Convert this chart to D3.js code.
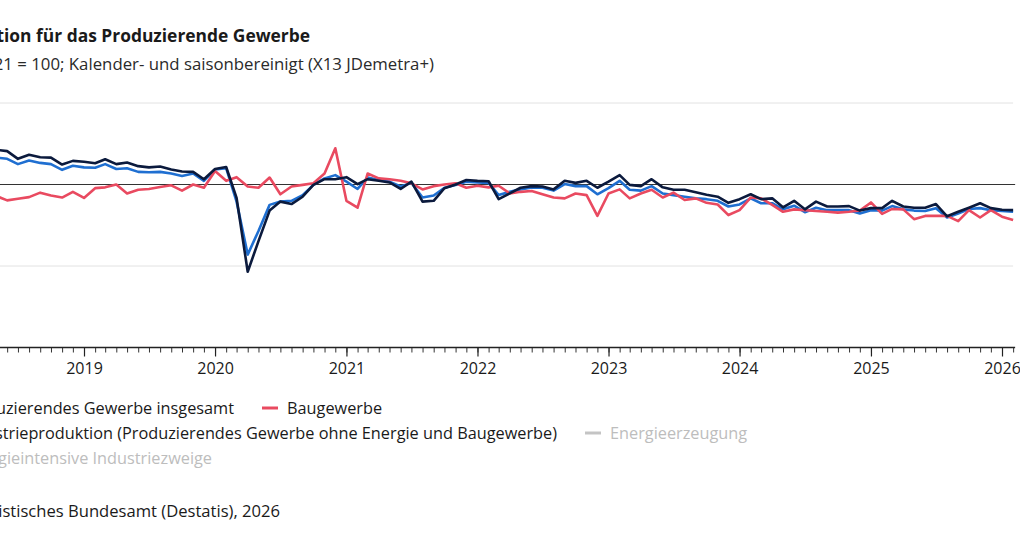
<!DOCTYPE html>
<html lang="de">
<head>
<meta charset="utf-8">
<script src="https://cdn.jsdelivr.net/npm/d3@7"></script>
<style>
    body { margin: 0; background: #fff; overflow: hidden; }
    svg { display: block; font-family: "Open Sans", Roboto, "Noto Sans", sans-serif; }
</style>
</head>
<body>
<div id="chart"></div>
<script>
// Monthly index values, 2021 = 100, first value is May 2018
const startMonth = new Date(2018, 4, 1);

const produzierendesGewerbe = [
    106.6, 106.3, 105.0, 105.9, 105.3, 105.0, 103.6, 104.6,
    104.2, 104.1, 105.0, 103.8, 104.0, 103.1, 103.0, 103.1, 102.7, 102.1, 102.7, 100.9,
    103.7, 104.0, 95.8, 82.8, 88.6, 95.0, 95.8, 96.0, 97.4, 99.9, 101.5, 102.3,
    100.7, 98.9, 101.7, 101.1, 100.7, 99.5, 100.4, 96.8, 97.3, 99.2, 99.9, 100.7,
    100.5, 100.4, 97.4, 98.2, 98.8, 99.3, 99.2, 98.5, 100.1, 99.6, 99.6, 97.6,
    99.1, 100.9, 98.7, 98.5, 99.6, 97.8, 97.4, 97.0, 96.6, 96.4, 96.0, 94.6,
    95.1, 96.6, 95.4, 95.4, 93.9, 94.8, 93.2, 94.3, 93.7, 93.7, 93.7, 92.9,
    93.7, 93.6, 94.7, 93.9, 93.6, 93.5, 94.2, 91.9, 92.9, 94.0, 94.2, 93.7,
    93.5, 93.3
];

const baugewerbe = [
    97.2, 96.1, 96.5, 96.9, 98.0, 97.3, 96.8, 98.2,
    96.7, 99.1, 99.3, 100.0, 97.8, 98.7, 98.9, 99.4, 99.8, 98.5, 100.0, 99.2,
    103.3, 100.9, 101.8, 99.5, 99.2, 101.7, 97.6, 99.5, 99.9, 100.3, 102.7, 108.9,
    96.0, 94.3, 102.7, 101.5, 101.3, 100.9, 100.3, 98.8, 99.6, 100.0, 100.3, 99.2,
    99.7, 99.3, 99.7, 97.8, 98.2, 98.4, 97.6, 96.8, 96.6, 97.8, 97.4, 92.3,
    97.8, 98.8, 96.6, 97.8, 98.7, 96.8, 98.0, 96.2, 96.6, 95.5, 95.1, 92.5,
    93.7, 96.8, 96.6, 95.0, 93.3, 93.9, 93.7, 93.5, 93.3, 93.1, 93.3, 93.6,
    95.6, 92.8, 94.0, 93.9, 91.5, 92.3, 92.3, 92.3, 91.0, 93.7, 91.9, 93.7,
    92.1, 91.3
];

const industrieproduktion = [
    108.5, 108.2, 106.3, 107.3, 106.7, 106.6, 104.9, 105.8,
    105.6, 105.2, 106.2, 105.0, 105.4, 104.5, 104.2, 104.4, 103.7, 103.2, 103.1, 101.3,
    103.8, 104.3, 96.7, 78.6, 86.1, 93.6, 95.8, 95.2, 97.0, 99.9, 101.3, 101.3,
    101.8, 100.1, 101.3, 100.9, 100.5, 98.9, 100.7, 95.8, 96.0, 99.1, 100.0, 101.1,
    100.9, 100.8, 96.4, 97.8, 99.2, 99.6, 99.5, 98.8, 100.9, 100.4, 100.9, 99.2,
    100.7, 102.3, 99.9, 99.6, 101.3, 99.3, 98.7, 98.7, 98.1, 97.5, 97.0, 95.5,
    96.4, 97.6, 96.4, 96.6, 94.4, 96.0, 93.9, 95.8, 94.6, 94.6, 94.7, 93.6,
    94.2, 94.2, 96.0, 94.6, 94.3, 94.3, 95.2, 92.2, 93.3, 94.3, 95.4, 94.2,
    93.8, 93.7
];

const yTicks = [60, 80, 100, 120];

const seriesNames = [
    "Produzierendes Gewerbe insgesamt",
    "Baugewerbe",
    "Industrieproduktion (Produzierendes Gewerbe ohne Energie und Baugewerbe)",
    "Energieerzeugung",
    "Energieintensive Industriezweige"
];
const seriesColors = ["#1f6fd1", "#e94a60", "#0b1a3d", "#c4c4c4", "#c4c4c4"];
const seriesActive = [true, true, true, false, false];

const titleText = "Produktion für das Produzierende Gewerbe";
const subtitleText = "Index 2021 = 100; Kalender- und saisonbereinigt (X13 JDemetra+)";
const sourceText = "Quelle: Statistisches Bundesamt (Destatis), 2026";

// months for every value
const months = d3.timeMonth.range(startMonth, d3.timeMonth.offset(startMonth, industrieproduktion.length));

const width = 1020, height = 550;

const svg = d3.select("#chart")
    .append("svg")
    .attr("width", width)
    .attr("height", height);

// The chart is wider than the window, its left part is cut off
const x = d3.scaleTime()
    .domain([new Date(2019, 0, 1), new Date(2026, 0, 1)])
    .range([84, 1002]);

const y = d3.scaleLinear()
    .domain([60, 120])
    .range([347.5, 103]);

const plotLeft = x(startMonth) - 20;
const plotRight = x(months[months.length - 1]);

// Title and subtitle (left part clipped, so anchored at their end)
svg.append("text")
    .attr("x", 310)
    .attr("y", 42)
    .attr("text-anchor", "end")
    .attr("font-size", 17.4)
    .attr("font-weight", 700)
    .attr("fill", "#1a1a1a")
    .text(titleText);

svg.append("text")
    .attr("x", 434)
    .attr("y", 70)
    .attr("text-anchor", "end")
    .attr("font-size", 16.8)
    .attr("fill", "#2a2a2a")
    .text(subtitleText);

// Gridlines
svg.append("g")
    .selectAll("line")
    .data(yTicks.filter(d => d !== 60 && d !== 100))
    .join("line")
    .attr("x1", plotLeft)
    .attr("x2", plotRight)
    .attr("y1", d => y(d))
    .attr("y2", d => y(d))
    .attr("stroke", "#e2e2e2")
    .attr("stroke-width", 1);

// y labels (off screen on the left)
svg.append("g")
    .selectAll("text")
    .data(yTicks)
    .join("text")
    .attr("x", plotLeft - 8)
    .attr("y", d => y(d) + 5)
    .attr("text-anchor", "end")
    .attr("font-size", 16)
    .attr("fill", "#222")
    .text(d => d);

// x axis: monthly minor ticks and yearly major ticks
const axisScale = x.copy()
    .domain([startMonth, months[months.length - 1]])
    .range([x(startMonth), plotRight]);

const minorAxis = svg.append("g")
    .attr("transform", `translate(0, ${y(60)})`)
    .call(d3.axisBottom(axisScale)
        .ticks(d3.timeMonth.every(1))
        .tickSize(5)
        .tickSizeOuter(0)
        .tickFormat(""));
minorAxis.select(".domain").remove();
minorAxis.selectAll("line").attr("stroke", "#333");

const majorAxis = svg.append("g")
    .attr("transform", `translate(0, ${y(60)})`)
    .call(d3.axisBottom(axisScale)
        .ticks(d3.timeYear.every(1))
        .tickSize(9)
        .tickPadding(6)
        .tickSizeOuter(0)
        .tickFormat(d3.timeFormat("%Y")));
majorAxis.select(".domain").remove();
majorAxis.selectAll("line").attr("stroke", "#222").attr("stroke-width", 1.2);
majorAxis.selectAll("text")
    .attr("font-size", 16)
    .attr("font-family", "'Open Sans', Roboto, sans-serif")
    .attr("fill", "#1a1a1a");

// axis line
svg.append("line")
    .attr("x1", plotLeft)
    .attr("x2", plotRight + 2)
    .attr("y1", y(60))
    .attr("y2", y(60))
    .attr("stroke", "#222")
    .attr("stroke-width", 1.5);

// Index 100 line
svg.append("line")
    .attr("x1", plotLeft)
    .attr("x2", plotRight + 2)
    .attr("y1", y(100))
    .attr("y2", y(100))
    .attr("stroke", "#333")
    .attr("stroke-width", 1.2);

// Lines
const line = d3.line()
    .x((d, i) => x(months[i]))
    .y(d => y(d));

const drawn = [
    { values: produzierendesGewerbe, color: seriesColors[0] },
    { values: baugewerbe, color: seriesColors[1] },
    { values: industrieproduktion, color: seriesColors[2] }
];

svg.append("g")
    .selectAll("path")
    .data(drawn)
    .join("path")
    .attr("fill", "none")
    .attr("stroke", d => d.color)
    .attr("stroke-width", 2.6)
    .attr("stroke-linejoin", "round")
    .attr("d", d => line(d.values));

// Legend: rows with their first item clipped on the left
const legendRows = [
    { y: 408, end: 234, items: [0, 1] },
    { y: 433, end: 557, items: [2, 3] },
    { y: 458, end: 212, items: [4] }
];

const legend = svg.append("g").attr("font-size", 16.3);

legendRows.forEach(row => {
    // first item, text anchored at its end
    let first = row.items[0];
    let firstText = legend.append("text")
        .attr("x", row.end)
        .attr("y", row.y + 5.5)
        .attr("text-anchor", "end")
        .attr("fill", seriesActive[first] ? "#1a1a1a" : "#bdbdbd")
        .text(seriesNames[first]);
    let textWidth = firstText.node().getComputedTextLength();
    legend.append("line")
        .attr("x1", row.end - textWidth - 25)
        .attr("x2", row.end - textWidth - 9)
        .attr("y1", row.y)
        .attr("y2", row.y)
        .attr("stroke", seriesColors[first])
        .attr("stroke-width", 3);

    let cursor = row.end;
    row.items.slice(1).forEach(idx => {
        let mx = cursor + 28;
        legend.append("line")
            .attr("x1", mx)
            .attr("x2", mx + 16)
            .attr("y1", row.y)
            .attr("y2", row.y)
            .attr("stroke", seriesColors[idx])
            .attr("stroke-width", 3);
        let t = legend.append("text")
            .attr("x", mx + 25)
            .attr("y", row.y + 5.5)
            .attr("fill", seriesActive[idx] ? "#1a1a1a" : "#bdbdbd")
            .text(seriesNames[idx]);
        cursor = mx + 25 + t.node().getComputedTextLength();
    });
});

// Source
svg.append("text")
    .attr("x", 280)
    .attr("y", 517)
    .attr("text-anchor", "end")
    .attr("font-size", 16.6)
    .attr("fill", "#1a1a1a")
    .text(sourceText);
</script>
</body>
</html>
